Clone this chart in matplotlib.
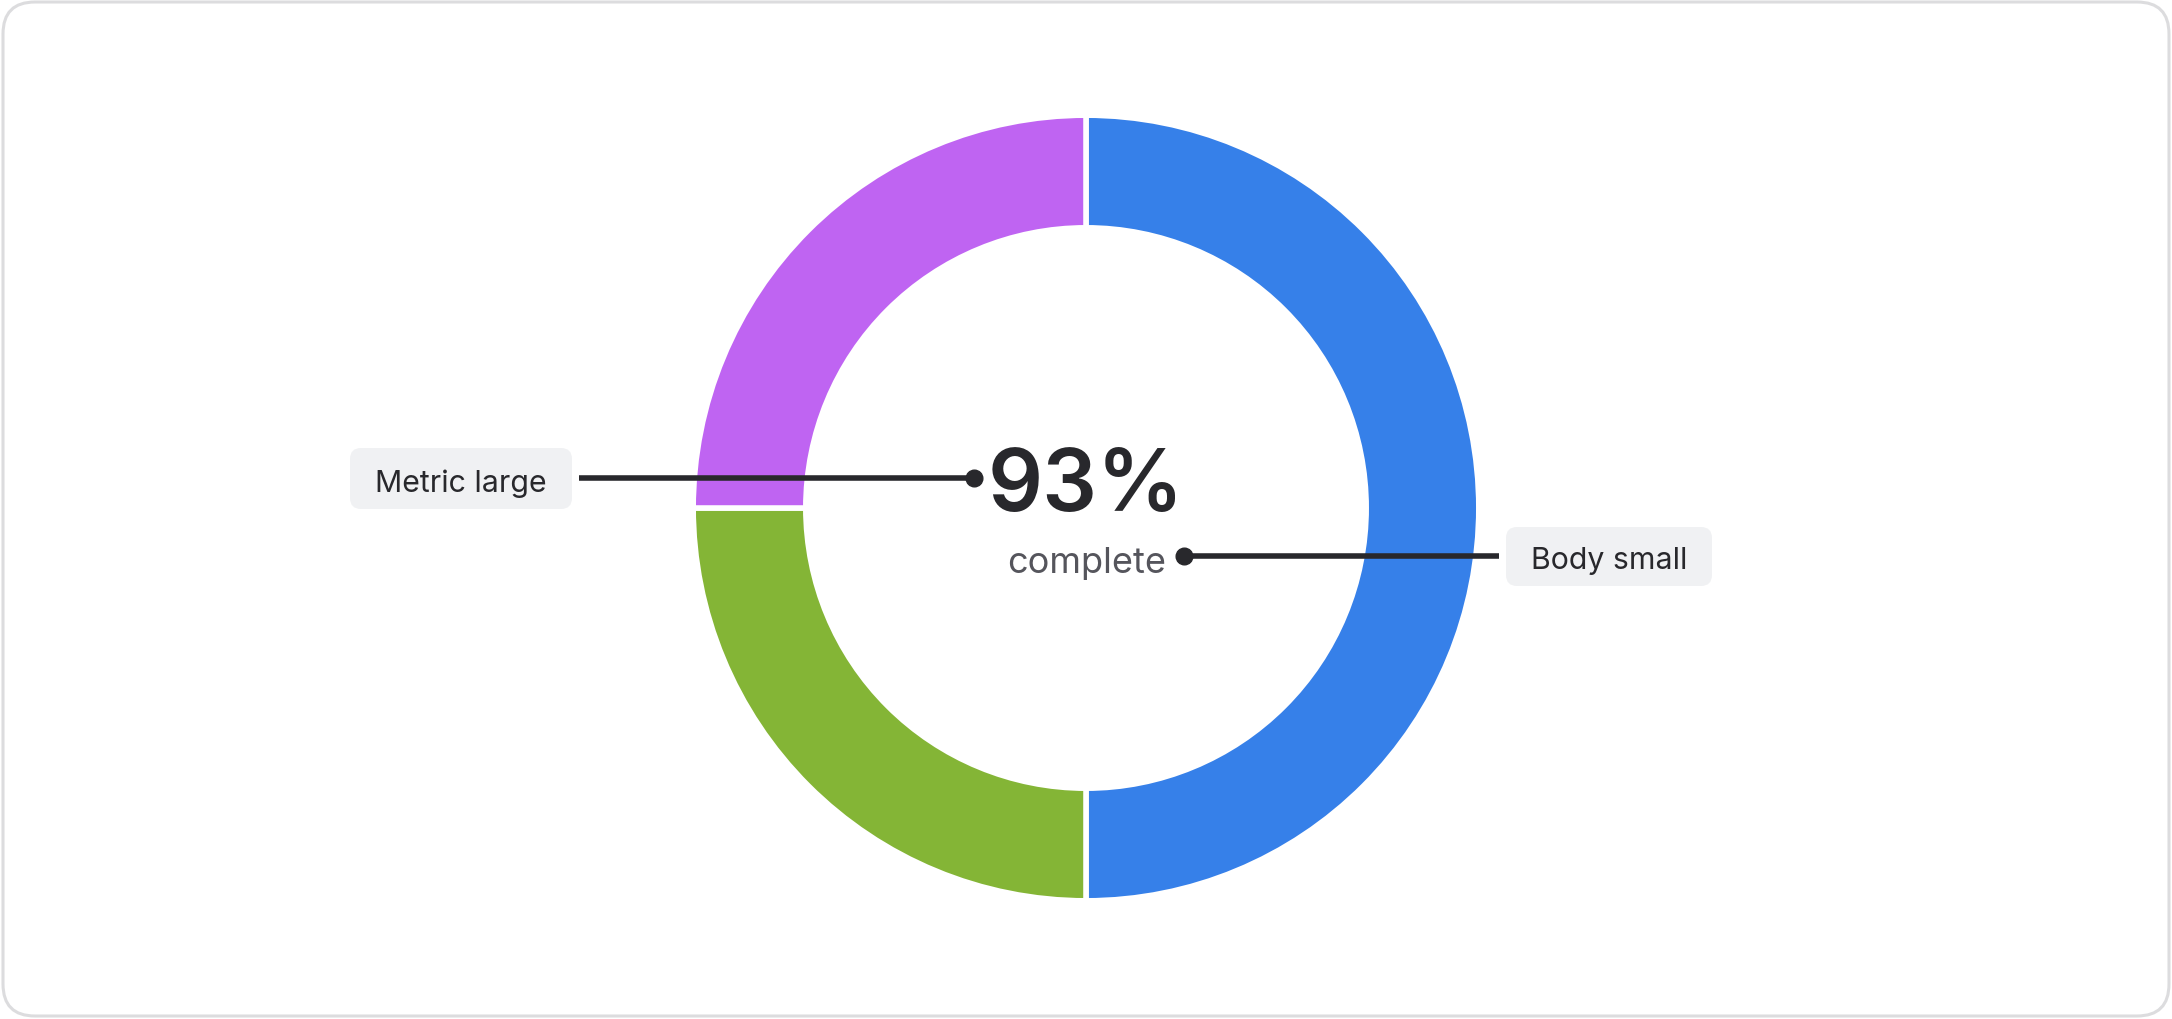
import matplotlib.pyplot as plt
from matplotlib.patches import FancyBboxPatch

plt.rcParams['font.family'] = ['Inter', 'DejaVu Sans']

# donut data (clockwise from top)
segments = ["Blue", "Green", "Purple"]
values = [50, 25, 25]
colors = ["#3680e9", "#84b536", "#bf64f2"]

center_value = "93%"
center_caption = "complete"
callout_labels = ["Metric large", "Body small"]

W, H = 2172, 1020
fig = plt.figure(figsize=(W / 100, H / 100), dpi=100)
ax = fig.add_axes([0, 0, 1, 1])

# outer card
card = FancyBboxPatch((3, 3), W - 6, H - 6, boxstyle="round,pad=0,rounding_size=32",
                      fc="white", ec="#dcdcde", lw=2.2, transform=ax.transData, zorder=0)
ax.add_patch(card)

# donut ring
cx, cy = 1086, 511
gap = 4  # pt
ax.pie(values, colors=colors, startangle=90, counterclock=False,
       radius=390 + 2.8, center=(cx, cy),
       wedgeprops=dict(width=107 + 5.6, edgecolor="white", linewidth=gap))

ax.set_xlim(0, W)
ax.set_ylim(0, H)
ax.set_aspect("equal")
ax.axis("off")

ink = "#28282c"

# center texts
ax.text(1086, 509, center_value, ha="center", va="baseline", fontsize=62,
        fontweight="semibold", color=ink, zorder=5)
ax.text(1087, 447, center_caption, ha="center", va="baseline", fontsize=26,
        color="#55555c", zorder=5)

# callout boxes
boxes = [(350, 510, 222, 61), (1506, 433, 206, 59)]
text_pos = [(461, 528), (1609, 451)]
for (bx, by, bw, bh), (tx, ty), lab in zip(boxes, text_pos, callout_labels):
    ax.add_patch(FancyBboxPatch((bx, by), bw, bh, boxstyle="round,pad=0,rounding_size=11",
                                fc="#f0f1f3", ec="none", zorder=4))
    ax.text(tx, ty, lab, ha="center", va="baseline", fontsize=21.8, color=ink, zorder=5)

# leader lines
ax.plot([579, 974], [541, 541], color=ink, lw=4, solid_capstyle="butt", zorder=6)
ax.plot([974], [541], "o", color=ink, ms=12, zorder=6)
ax.plot([1184, 1499], [463, 463], color=ink, lw=4, solid_capstyle="butt", zorder=6)
ax.plot([1184], [463], "o", color=ink, ms=12, zorder=6)

fig.savefig("out.png", dpi=100, facecolor="white")
